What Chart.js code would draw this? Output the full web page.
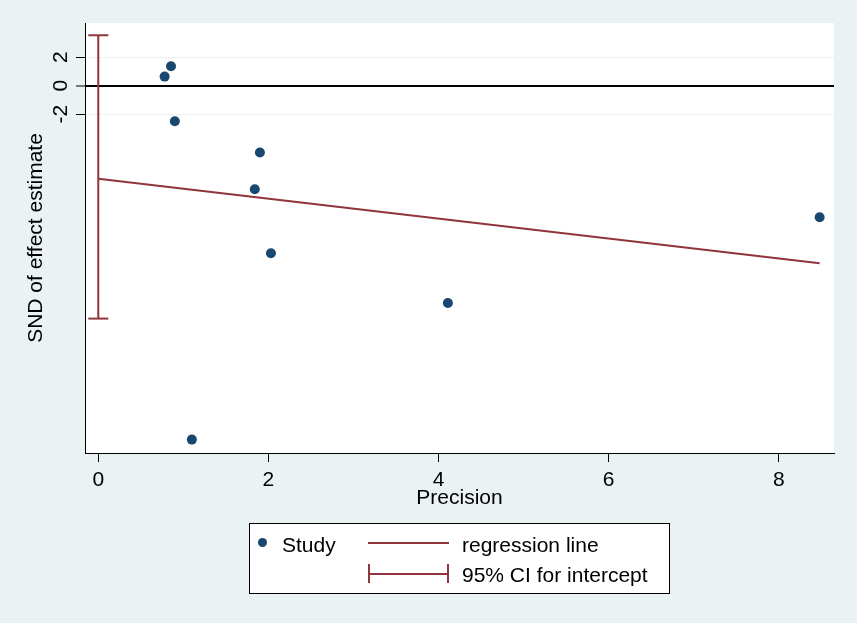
<!DOCTYPE html>
<html>
<head>
<meta charset="utf-8">
<title>SND of effect estimate vs precision</title>
<script src="https://cdn.jsdelivr.net/npm/chart.js"></script>
<style>
  html, body { margin: 0; padding: 0; background: #eaf2f3; }
  canvas { display: block; }
</style>
</head>
<body>
<canvas id="egger-chart" width="857" height="623"></canvas>
<script>
// values
const precision = [0.78, 0.855, 0.90, 1.84, 1.90, 2.03, 4.11, 1.10, 8.48];
const snd = [0.63, 1.36, -2.50, -7.28, -4.70, -11.77, -15.26, -24.84, -9.24];
const regPrecision = [0, 8.48];
const regSnd = [-6.53, -12.47];
const ciPrecision = [0, 0];
const ciSnd = [3.53, -16.35];
const xTicks = [0, 2, 4, 6, 8];
const yTicks = [-2, 0, 2];
const legendLabels = ['Study', 'regression line', '95% CI for intercept'];

const navy = '#1a476f';
const maroon = '#90353b';
const bg = '#eaf2f3';
const fontFamily = "'Liberation Sans', Arial, sans-serif";

Chart.defaults.font.family = fontFamily;
Chart.defaults.font.size = 21;
Chart.defaults.color = '#000';

const toPoints = (xs, ys) => xs.map((x, i) => ({ x: x, y: ys[i] }));

const backgroundPlugin = {
  id: 'background',
  beforeDraw(chart) {
    const { ctx, chartArea: a } = chart;
    ctx.save();
    ctx.fillStyle = bg;
    ctx.fillRect(0, 0, chart.width, chart.height);
    ctx.fillStyle = '#fff';
    ctx.fillRect(a.left, a.top, a.right - a.left, a.bottom - a.top);
    ctx.restore();
  },
};

// stata draws the y labels turned on their side
const yLabelPlugin = {
  id: 'yLabels',
  afterDraw(chart) {
    const ctx = chart.ctx;
    const y = chart.scales.y;
    ctx.save();
    ctx.font = '21px ' + fontFamily;
    ctx.fillStyle = '#000';
    ctx.textAlign = 'center';
    ctx.textBaseline = 'middle';
    y.ticks.forEach((t) => {
      ctx.save();
      ctx.translate(61, y.getPixelForValue(t.value));
      ctx.rotate(-Math.PI / 2);
      ctx.fillText(String(t.value), 0, 0);
      ctx.restore();
    });
    ctx.restore();
  },
};

const legendPlugin = {
  id: 'boxLegend',
  afterDraw(chart) {
    const ctx = chart.ctx;
    ctx.save();
    ctx.fillStyle = '#fff';
    ctx.fillRect(249.5, 523.5, 420, 70);
    ctx.strokeStyle = '#000';
    ctx.lineWidth = 1;
    ctx.strokeRect(249.5, 523.5, 420, 70);

    ctx.fillStyle = navy;
    ctx.beginPath();
    ctx.arc(262.5, 542.5, 4.5, 0, Math.PI * 2);
    ctx.fill();

    ctx.strokeStyle = maroon;
    ctx.lineWidth = 2;
    ctx.beginPath();
    ctx.moveTo(368, 543); ctx.lineTo(449, 543);
    ctx.moveTo(368, 574); ctx.lineTo(449, 574);
    ctx.moveTo(369, 564); ctx.lineTo(369, 583);
    ctx.moveTo(448, 564); ctx.lineTo(448, 583);
    ctx.stroke();

    ctx.fillStyle = '#000';
    ctx.font = '21px ' + fontFamily;
    ctx.textBaseline = 'alphabetic';
    ctx.fillText(legendLabels[0], 282, 552);
    ctx.fillText(legendLabels[1], 462, 552);
    ctx.fillText(legendLabels[2], 462, 582);
    ctx.restore();
  },
};

const ctx = document.getElementById('egger-chart');

new Chart(ctx, {
  type: 'scatter',
  data: {
    datasets: [
      {
        label: legendLabels[0],
        data: toPoints(precision, snd),
        pointRadius: 5,
        pointBorderWidth: 0,
        backgroundColor: navy,
        borderColor: navy,
      },
      {
        label: legendLabels[1],
        data: toPoints(regPrecision, regSnd),
        showLine: true,
        pointRadius: 0,
        borderColor: maroon,
        borderWidth: 2,
      },
      {
        label: legendLabels[2],
        data: toPoints(ciPrecision, ciSnd),
        showLine: true,
        borderColor: maroon,
        borderWidth: 2,
        pointStyle: 'line',
        pointRadius: 10,
        pointBorderColor: maroon,
        pointBorderWidth: 2,
      },
    ],
  },
  options: {
    responsive: false,
    animation: false,
    events: [],
    layout: {
      padding: { left: 0, top: 23, right: 23, bottom: 100 },
    },
    scales: {
      x: {
        type: 'linear',
        min: -0.156,
        max: 8.649,
        afterBuildTicks: (s) => { s.ticks = xTicks.map((v) => ({ value: v })); },
        afterFit: (s) => { s.height = 70; },
        grid: { drawOnChartArea: false, tickLength: 9, tickColor: '#000', tickWidth: 1 },
        border: { color: '#000', width: 1 },
        ticks: { padding: 6, maxRotation: 0, color: '#000' },
        title: { display: true, text: 'Precision', color: '#000', padding: { top: 0, bottom: 12 } },
      },
      y: {
        type: 'linear',
        min: -25.78,
        max: 4.39,
        afterBuildTicks: (s) => { s.ticks = yTicks.map((v) => ({ value: v })); },
        afterFit: (s) => { s.width = 85; },
        grid: {
          color: (c) => (c.tick && c.tick.value === 0 ? '#000' : bg),
          lineWidth: (c) => (c.tick && c.tick.value === 0 ? 2 : 1),
          tickLength: 9,
          tickColor: '#000',
          tickWidth: 1,
        },
        border: { color: '#000', width: 1 },
        ticks: { display: false },
        title: { display: true, text: 'SND of effect estimate', color: '#000', padding: { top: 24, bottom: 0 } },
      },
    },
    plugins: {
      legend: { display: false },
      tooltip: { enabled: false },
    },
  },
  plugins: [backgroundPlugin, yLabelPlugin, legendPlugin],
});
</script>
</body>
</html>
